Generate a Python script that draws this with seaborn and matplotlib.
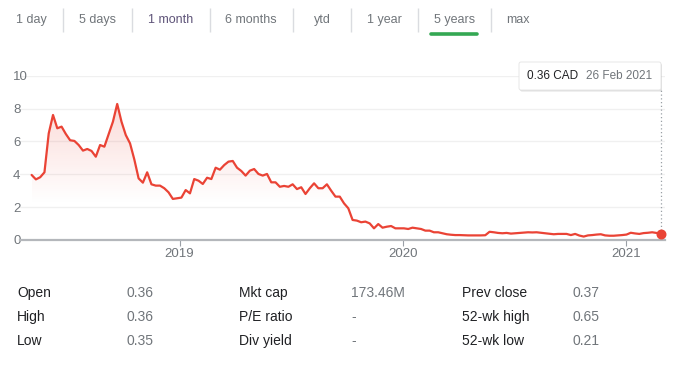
import matplotlib

matplotlib.use("Agg")

import matplotlib.dates as mdates
import matplotlib.pyplot as plt
import numpy as np
import pandas as pd
import seaborn as sns
from matplotlib.colors import to_rgb
from matplotlib.patches import FancyBboxPatch

# ---- data ----
tabs = ["1 day", "5 days", "1 month", "6 months", "ytd", "1 year", "5 years", "max"]
active_tab = "5 years"

currency = "CAD"
last_date = "2021-02-26"
# weekly closes, May 2018 -> 26 Feb 2021
prices = [
    3.96, 3.69, 3.82, 4.12, 6.49, 7.61, 6.80, 6.90, 6.45, 6.07,
    6.03, 5.78, 5.44, 5.54, 5.42, 5.07, 5.78, 5.68, 6.43, 7.20,
    8.28, 7.20, 6.39, 5.88, 4.90, 3.75, 3.49, 4.12, 3.39, 3.31,
    3.31, 3.15, 2.90, 2.50, 2.54, 2.58, 3.04, 2.84, 3.71, 3.61,
    3.41, 3.79, 3.71, 4.40, 4.28, 4.56, 4.77, 4.81, 4.40, 4.20,
    3.92, 4.22, 4.32, 4.02, 3.92, 4.02, 3.51, 3.51, 3.24, 3.29,
    3.24, 3.39, 3.10, 3.21, 2.80, 3.15, 3.45, 3.15, 3.15, 3.39,
    3.00, 2.64, 2.64, 2.23, 1.93, 1.22, 1.18, 1.08, 1.12, 1.01,
    0.71, 0.97, 0.75, 0.81, 0.85, 0.71, 0.71, 0.71, 0.67, 0.75,
    0.71, 0.67, 0.57, 0.57, 0.47, 0.47, 0.41, 0.35, 0.32, 0.30,
    0.30, 0.29, 0.28, 0.28, 0.28, 0.28, 0.29, 0.50, 0.47, 0.43,
    0.41, 0.43, 0.39, 0.41, 0.43, 0.45, 0.47, 0.46, 0.47, 0.44,
    0.41, 0.38, 0.35, 0.37, 0.37, 0.37, 0.30, 0.37, 0.27, 0.21,
    0.28, 0.30, 0.33, 0.35, 0.28, 0.26, 0.26, 0.28, 0.30, 0.33,
    0.44, 0.40, 0.37, 0.42, 0.44, 0.47, 0.43, 0.36,
]

y_ticks = [0, 2, 4, 6, 8, 10]
year_ticks = ["2019-01-01", "2020-01-01", "2021-01-01"]
year_labels = ["2019", "2020", "2021"]

stat_labels = [
    ["Open", "High", "Low"],
    ["Mkt cap", "P/E ratio", "Div yield"],
    ["Prev close", "52-wk high", "52-wk low"],
]
stat_values = [
    ["0.36", "0.36", "0.35"],
    ["173.46M", "-", "-"],
    ["0.37", "0.65", "0.21"],
]

RED = "#ea4335"
GREY = "#70757a"
DARK = "#202124"

df = pd.DataFrame(
    {
        "date": pd.date_range(end=last_date, periods=len(prices), freq="7D"),
        "price": prices,
    }
)

sns.set_theme(style="white")
plt.rcParams["font.family"] = ["Liberation Sans", "DejaVu Sans"]

W, H = 685, 369
fig = plt.figure(figsize=(W / 100, H / 100), dpi=100)
ax = fig.add_axes([20 / W, 1 - 240 / H, 645 / W, (240 - 75.7) / H])

sns.lineplot(data=df, x="date", y="price", ax=ax, color=RED, linewidth=1.6, zorder=3)

# soft red gradient under the line
poly = ax.fill_between(df["date"], df["price"], 0, facecolor="none", edgecolor="none")
x0 = mdates.date2num(df["date"].iloc[0])
x1 = mdates.date2num(df["date"].iloc[-1])
levels = np.linspace(0, 10, 300)
grad = np.zeros((len(levels), 1, 4))
grad[..., :3] = to_rgb(RED)
grad[:, 0, 3] = np.clip((levels - 2.2) / 6.3, 0, 1) * 0.2
im = ax.imshow(grad, extent=[x0, x1, 0, 10], origin="lower", aspect="auto", zorder=1)
im.set_clip_path(poly.get_paths()[0], transform=ax.transData)

last = df.iloc[-1]
ax.vlines(last["date"], last["price"], 9.12, color="#9aa0a6", lw=0.9,
          linestyles=(0, (1, 2)), zorder=2)
ax.scatter([last["date"]], [last["price"]], s=38, color=RED, zorder=5, clip_on=False)

ax.set_xlim(pd.Timestamp("2018-04-15"), pd.Timestamp("2021-03-05"))
ax.set_ylim(0, 10)
ax.set_yticks(y_ticks)
ax.set_xticks(pd.to_datetime(year_ticks))
ax.set_xticklabels(year_labels)
ax.set_xlabel("")
ax.set_ylabel("")
ax.grid(axis="y", color="#f0f0f0", lw=1)
ax.grid(axis="x", visible=False)
ax.set_axisbelow(True)
for side in ["top", "right", "left"]:
    ax.spines[side].set_visible(False)
ax.spines["bottom"].set_color("#b4b7bb")
ax.spines["bottom"].set_linewidth(1.6)
ax.tick_params(axis="x", bottom=True, length=4, width=0.8, color="#9aa0a6", pad=2,
               labelsize=9.5, labelcolor=GREY)
ax.tick_params(axis="y", length=0, pad=5, labelsize=9.5, labelcolor=GREY)
for t in ax.get_yticklabels():
    t.set_horizontalalignment("left")
ax.patch.set_alpha(0)

# overlay in pixel coordinates for tabs, tooltip and stats table
ov = fig.add_axes([0, 0, 1, 1], zorder=5)
ov.set_xlim(0, W)
ov.set_ylim(H, 0)
ov.axis("off")

tab_centers = [31, 98, 171, 251, 322, 384.5, 454.5, 518]
for label, cx in zip(tabs, tab_centers):
    color = "#5f5479" if label == "1 month" else GREY
    ov.text(cx, 20, label, ha="center", va="center", fontsize=9, color=color)
    if label == active_tab:
        ov.plot([cx - 23, cx + 23], [33.5, 33.5], color="#34a853", lw=2.6,
                solid_capstyle="round")
ov.vlines([63.5, 132.5, 210, 293, 351, 418, 491], 8, 32, color="#dadce0", lw=1)

# tooltip
ov.add_patch(FancyBboxPatch((520, 63.5), 142, 28, boxstyle="round,pad=0,rounding_size=2",
                            fc="#000000", ec="none", alpha=0.12))
ov.add_patch(FancyBboxPatch((519, 62), 142, 28, boxstyle="round,pad=0,rounding_size=2",
                            fc="white", ec="#e3e3e3", lw=0.6))
ov.text(527, 76, f"{last['price']:.2f} {currency}", va="center", fontsize=8.5, color=DARK)
ov.text(586, 76, f"{last['date'].day} {last['date']:%b %Y}", va="center",
        fontsize=8.5, color=GREY)

# stats table
label_x = [17, 239, 462]
value_x = [127, 351, 573]
row_y = [293, 317, 341]
for c in range(3):
    for r in range(3):
        ov.text(label_x[c], row_y[r], stat_labels[c][r], va="center", fontsize=10, color=DARK)
        ov.text(value_x[c], row_y[r], stat_values[c][r], va="center", fontsize=10, color=GREY)

fig.savefig("out.png", dpi=100)
